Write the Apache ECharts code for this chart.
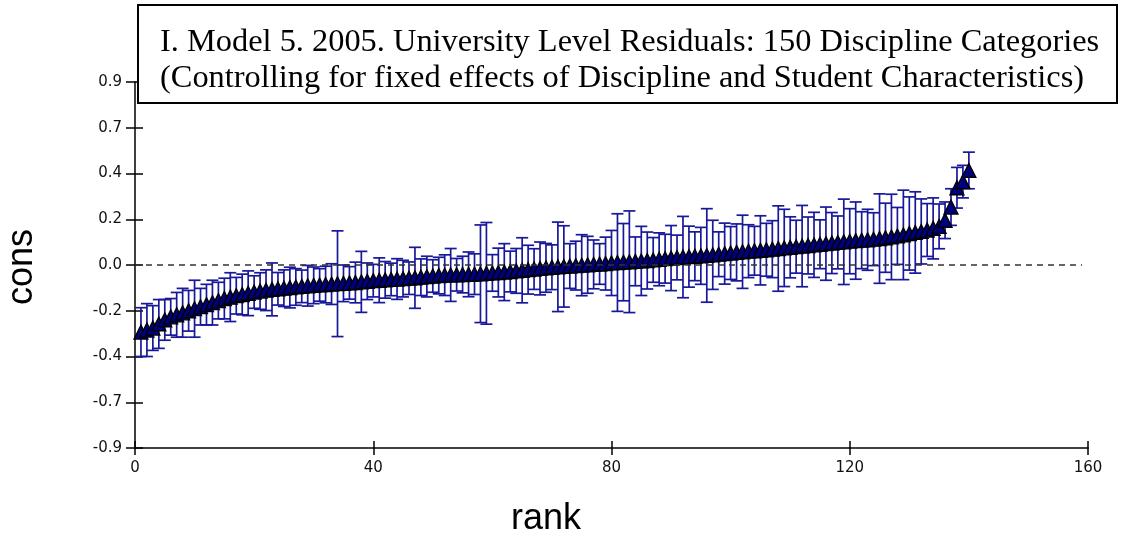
<!DOCTYPE html>
<html>
<head>
<meta charset="utf-8">
<script src="https://cdn.jsdelivr.net/npm/echarts@6/dist/echarts.min.js"></script>
<style>html,body{margin:0;padding:0;background:#fff}#c{width:1121px;height:539px}</style>
</head>
<body>
<div id="c"></div>
<script>
// Point estimates (residuals), ranked 1..140
var center = [
 -0.33,-0.32,-0.31,-0.29,-0.27,-0.255,-0.245,-0.235,-0.225,-0.215,
 -0.205,-0.195,-0.185,-0.175,-0.165,-0.158,-0.151,-0.145,-0.139,-0.133,
 -0.128,-0.124,-0.120,-0.117,-0.114,-0.111,-0.108,-0.105,-0.102,-0.100,
 -0.098,-0.096,-0.094,-0.092,-0.090,-0.088,-0.086,-0.083,-0.080,-0.077,
 -0.075,-0.073,-0.071,-0.069,-0.067,-0.065,-0.063,-0.060,-0.057,-0.054,
 -0.052,-0.050,-0.049,-0.048,-0.047,-0.046,-0.045,-0.043,-0.041,-0.039,
 -0.037,-0.035,-0.032,-0.029,-0.026,-0.023,-0.020,-0.017,-0.014,-0.011,
 -0.009,-0.007,-0.005,-0.003,-0.001,0.001,0.003,0.005,0.007,0.010,
 0.012,0.014,0.016,0.018,0.020,0.022,0.025,0.028,0.031,0.034,
 0.037,0.039,0.041,0.043,0.045,0.047,0.050,0.053,0.056,0.059,
 0.062,0.065,0.068,0.070,0.072,0.075,0.078,0.081,0.084,0.087,
 0.090,0.093,0.096,0.099,0.102,0.105,0.108,0.111,0.114,0.117,
 0.120,0.122,0.124,0.127,0.130,0.134,0.138,0.143,0.148,0.155,
 0.160,0.165,0.172,0.180,0.190,0.220,0.285,0.380,0.410,0.465
];
// Half-widths of the confidence intervals
var halfWidth = [
 0.12,0.13,0.11,0.12,0.10,0.09,0.11,0.12,0.10,0.14,
 0.09,0.10,0.11,0.09,0.10,0.12,0.09,0.10,0.11,0.08,
 0.09,0.10,0.13,0.08,0.09,0.10,0.09,0.08,0.10,0.09,
 0.08,0.09,0.10,0.26,0.09,0.08,0.10,0.15,0.09,0.08,
 0.11,0.09,0.08,0.10,0.09,0.08,0.15,0.09,0.10,0.08,
 0.09,0.10,0.13,0.08,0.09,0.11,0.10,0.24,0.25,0.09,
 0.12,0.14,0.10,0.11,0.16,0.12,0.10,0.13,0.12,0.11,
 0.22,0.20,0.11,0.12,0.15,0.14,0.12,0.10,0.13,0.16,
 0.24,0.19,0.25,0.12,0.17,0.14,0.11,0.13,0.12,0.16,
 0.11,0.20,0.15,0.12,0.14,0.23,0.17,0.11,0.15,0.13,
 0.14,0.18,0.13,0.12,0.17,0.13,0.14,0.21,0.19,0.15,
 0.13,0.20,0.14,0.16,0.12,0.18,0.15,0.13,0.21,0.16,
 0.19,0.14,0.15,0.13,0.22,0.17,0.21,0.14,0.22,0.18,
 0.20,0.16,0.13,0.15,0.11,0.09,0.09,0.10,0.08,0.09
];
var ranks = center.map(function(_, i){ return i + 1; });
var yTickLabels = ['-0.9','-0.7','-0.4','-0.2','0.0','0.2','0.4','0.7','0.9'];
var xTickLabels = ['0','40','80','120','160'];
var titleLines = ['I. Model 5. 2005. University Level Residuals: 150 Discipline Categories',
                  '(Controlling for fixed effects of Discipline and Student Characteristics)'];

var chart = echarts.init(document.getElementById('c'));
var barColor = '#18189a';
var errData = ranks.map(function(r, i){ return [r, center[i] - halfWidth[i], center[i] + halfWidth[i]]; });
var ptData = ranks.map(function(r, i){ return [r, center[i]]; });

var yLabelFmt = function(v){ var k = Math.round((v + 0.9) / 0.225); return yTickLabels[k] || ''; };
var xLabelFmt = function(v){ var k = Math.round(v / 40); return xTickLabels[k] || ''; };
var lbl = {fontFamily:'DejaVu Sans', fontSize:15, color:'#111'};

chart.setOption({
  animation:false,
  grid:{left:135, right:33, top:82, bottom:91},
  xAxis:[
    {type:'value', min:0, max:160, interval:40,
     axisLine:{onZero:false, lineStyle:{color:'#000', width:1.5}},
     axisTick:{length:7, lineStyle:{color:'#000', width:1.5}},
     axisLabel:Object.assign({margin:13, formatter:xLabelFmt}, lbl),
     splitLine:{show:false}},
    {type:'value', min:0, max:160, interval:40, position:'bottom',
     axisLine:{show:false, onZero:false},
     axisTick:{inside:true, length:7, lineStyle:{color:'#000', width:1.5}},
     axisLabel:{show:false}, splitLine:{show:false}}
  ],
  yAxis:[
    {type:'value', min:-0.9, max:0.9, interval:0.225,
     axisLine:{show:true, onZero:false, lineStyle:{color:'#000', width:1.5}},
     axisTick:{show:true, length:9, lineStyle:{color:'#000', width:1.5}},
     axisLabel:Object.assign({margin:13, formatter:yLabelFmt}, lbl),
     splitLine:{show:false}},
    {type:'value', min:-0.9, max:0.9, interval:0.225, position:'left',
     axisLine:{show:false, onZero:false},
     axisTick:{show:true, inside:true, length:8, lineStyle:{color:'#000', width:1.5}},
     axisLabel:{show:false}, splitLine:{show:false}}
  ],
  series:[
    {type:'custom', data:errData, z:2,
     renderItem:function(params, api){
       var x = api.value(0);
       var lo = api.coord([x, api.value(1)]);
       var hi = api.coord([x, api.value(2)]);
       var w = 6;
       var st = {stroke:barColor, lineWidth:1.7, fill:null};
       return {type:'group', children:[
         {type:'line', shape:{x1:lo[0], y1:lo[1], x2:hi[0], y2:hi[1]}, style:st},
         {type:'line', shape:{x1:lo[0]-w, y1:lo[1], x2:lo[0]+w, y2:lo[1]}, style:st},
         {type:'line', shape:{x1:hi[0]-w, y1:hi[1], x2:hi[0]+w, y2:hi[1]}, style:st}
       ]};
     },
     markLine:{silent:true, symbol:'none', label:{show:false},
       lineStyle:{color:'#333', type:[6,5], width:1.5},
       data:[[{coord:[0,0]},{coord:[159,0]}]]}
    },
    {type:'scatter', data:ptData, symbol:'triangle', symbolSize:14, z:3,
     itemStyle:{color:'#00007a', borderColor:'#000', borderWidth:1.3, opacity:1}}
  ],
  graphic:[
    {type:'rect', shape:{x:138, y:5, width:979, height:98},
     style:{fill:'#fff', stroke:'#000', lineWidth:2}, z:10},
    {type:'text', left:160, top:26, z:11,
     style:{text:titleLines[0], font:'32.4px "Liberation Serif"', fill:'#000'}},
    {type:'text', left:160, top:62, z:11,
     style:{text:titleLines[1], font:'32.4px "Liberation Serif"', fill:'#000'}},
    {type:'text', x:22, y:267, rotation:Math.PI/2, z:11,
     style:{text:'cons', font:'36px "Liberation Sans"', fill:'#000', align:'center', verticalAlign:'middle'}},
    {type:'text', x:546, y:519, z:11,
     style:{text:'rank', font:'36px "Liberation Sans"', fill:'#000', align:'center', verticalAlign:'middle'}}
  ]
});
</script>
</body>
</html>
